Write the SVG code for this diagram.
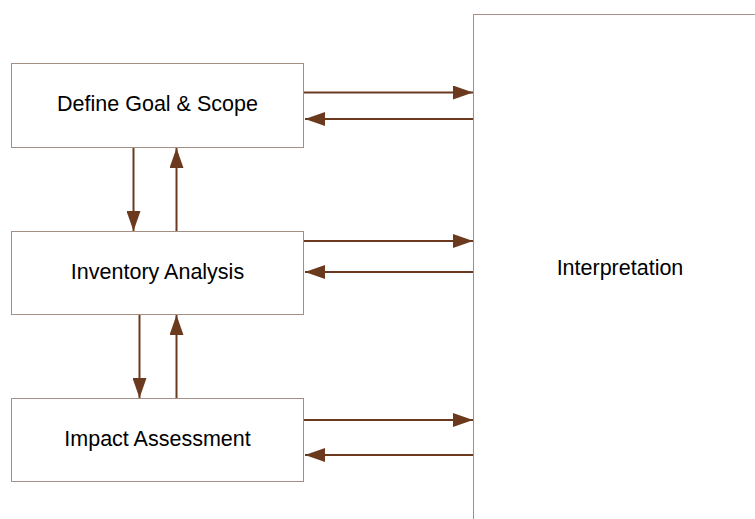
<svg xmlns="http://www.w3.org/2000/svg" width="755" height="519" viewBox="0 0 755 519">
<style>
.box{fill:#fff;stroke:#a48f84;stroke-width:1}
.lbl{font-family:"Liberation Sans",Arial,sans-serif;font-size:21.5px;fill:#000;text-anchor:middle;dominant-baseline:central}
.c{stroke:#6b3a1e;stroke-width:2;fill:none;marker-end:url(#ah)}
</style>
<defs>
<marker id="ah" markerUnits="userSpaceOnUse" markerWidth="20" markerHeight="14" refX="20" refY="7" orient="auto">
<path d="M0,0 L20,7 L0,14 Z" fill="#6b3a1e"/>
</marker>
</defs>
<rect width="755" height="519" fill="#fff"/>
<g id="interpretation">
<rect class="box" x="473.5" y="14.5" width="300" height="520"/>
<text class="lbl" x="620" y="268">Interpretation</text>
</g>
<g id="goal">
<rect class="box" x="11.5" y="63.5" width="292" height="84"/>
<text class="lbl" x="157.5" y="104">Define Goal &amp; Scope</text>
</g>
<g id="inventory">
<rect class="box" x="11.5" y="231.5" width="292" height="83"/>
<text class="lbl" x="157.5" y="272">Inventory Analysis</text>
</g>
<g id="impact">
<rect class="box" x="11.5" y="398.5" width="292" height="83"/>
<text class="lbl" x="157.5" y="439">Impact Assessment</text>
</g>
<g id="connectors">
<line class="c" x1="304" y1="92.5" x2="473" y2="92.5"/>
<line class="c" x1="473" y1="119" x2="305" y2="119"/>
<line class="c" x1="304" y1="241" x2="473" y2="241"/>
<line class="c" x1="473" y1="272" x2="305" y2="272"/>
<line class="c" x1="304" y1="420" x2="473" y2="420"/>
<line class="c" x1="473" y1="455" x2="305" y2="455"/>
<line class="c" x1="133.5" y1="148" x2="133.5" y2="231"/>
<line class="c" x1="176.5" y1="231" x2="176.5" y2="148"/>
<line class="c" x1="139.5" y1="315" x2="139.5" y2="398"/>
<line class="c" x1="176.5" y1="398" x2="176.5" y2="315"/>
</g>
</svg>
